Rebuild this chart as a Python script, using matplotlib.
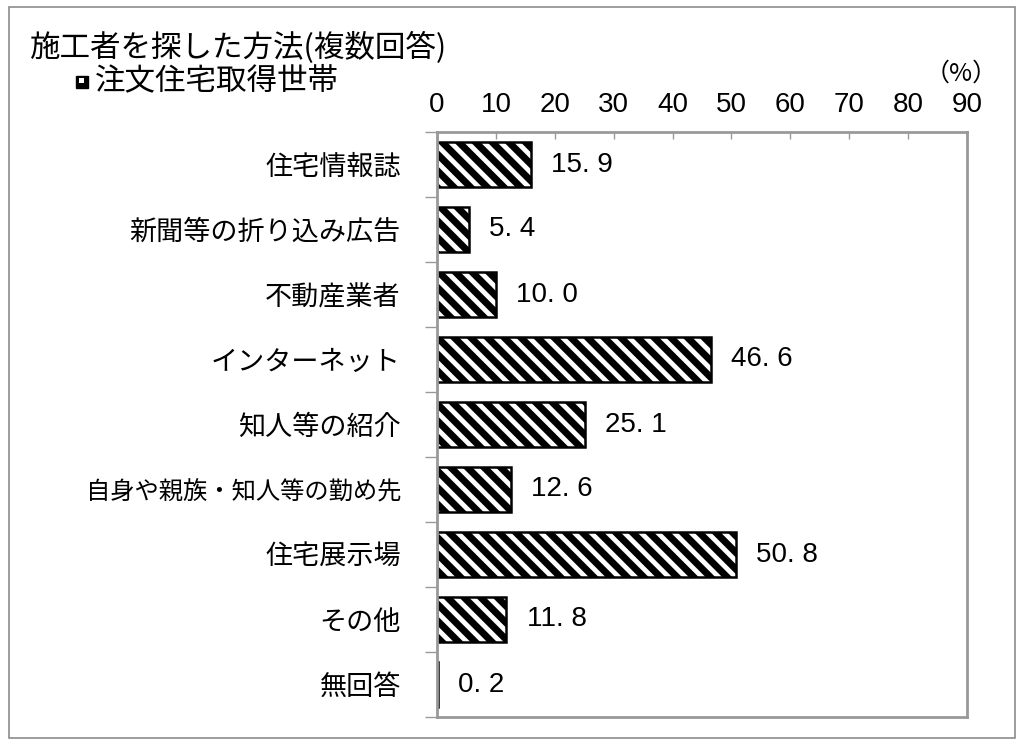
import numpy as np
import matplotlib.pyplot as plt
from matplotlib.patches import Rectangle

plt.rcParams['font.family'] = ['Noto Sans CJK JP', 'DejaVu Sans']
plt.rcParams['hatch.linewidth'] = 5.0

categories = ['住宅情報誌', '新聞等の折り込み広告', '不動産業者', 'インターネット', '知人等の紹介',
              '自身や親族・知人等の勤め先', '住宅展示場', 'その他', '無回答']
values = [15.9, 5.4, 10.0, 46.6, 25.1, 12.6, 50.8, 11.8, 0.2]
xticks = [0, 10, 20, 30, 40, 50, 60, 70, 80, 90]

title = '施工者を探した方法(複数回答)'
series_name = '注文住宅取得世帯'
num_font = ['Liberation Sans Narrow', 'Liberation Sans', 'DejaVu Sans']

fig = plt.figure(figsize=(10.24, 7.45), dpi=100)
# page border
fig.patches.append(Rectangle((9 / 1024, 1 - 738 / 745), (1015 - 9) / 1024, (738 - 7) / 745,
                             transform=fig.transFigure, fill=False, edgecolor='#8c8c8c', linewidth=1.2))

ax = fig.add_axes([437 / 1024, 1 - 717 / 745, (967 - 437) / 1024, (717 - 132) / 745])
y = np.arange(len(categories))
ax.barh(y, values, height=0.68, color='white', edgecolor='black', linewidth=1.8, hatch='\\\\')
ax.set_xlim(0, 90)
ax.set_ylim(len(categories) - 0.5, -0.5)

ax.xaxis.tick_top()
ax.set_xticks(xticks)
ax.set_xticklabels([str(t) for t in xticks], fontsize=20, family=num_font)
ax.tick_params(axis='x', direction='in', length=5, width=1, color='#999999', pad=10)

ax.set_yticks(y)
labels = ax.set_yticklabels(categories, fontsize=19.5)
labels[5].set_fontsize(17.5)
ax.tick_params(axis='y', length=0, pad=26)
ax.set_yticks(np.arange(len(categories) + 1) - 0.5, minor=True)
ax.tick_params(axis='y', which='minor', direction='out', length=9, width=1, color='#999999')

for s in ax.spines.values():
    s.set_color('#999999')
    s.set_linewidth(2)

for yi, v in zip(y, values):
    ax.text(v + 3.4, yi, f'{v:.1f}'.replace('.', '. '), va='center', ha='left', fontsize=20, family=num_font)

fig.text(30 / 1024, 1 - 48 / 745, title, fontsize=22, va='center', ha='left')
fig.patches.append(Rectangle((76 / 1024, 1 - 88 / 745), 12 / 1024, 12 / 745, transform=fig.transFigure,
                             facecolor='black', edgecolor='black', linewidth=1))
fig.patches.append(Rectangle((79 / 1024, 1 - 83 / 745), 5 / 1024, 5 / 745, transform=fig.transFigure,
                             facecolor='white', edgecolor='none'))
fig.text(95 / 1024, 1 - 81 / 745, series_name, fontsize=22, va='center', ha='left')
fig.text(961 / 1024, 1 - 74 / 745, '（%）', fontsize=18, va='center', ha='center')

fig.savefig('out.png', dpi=100)
